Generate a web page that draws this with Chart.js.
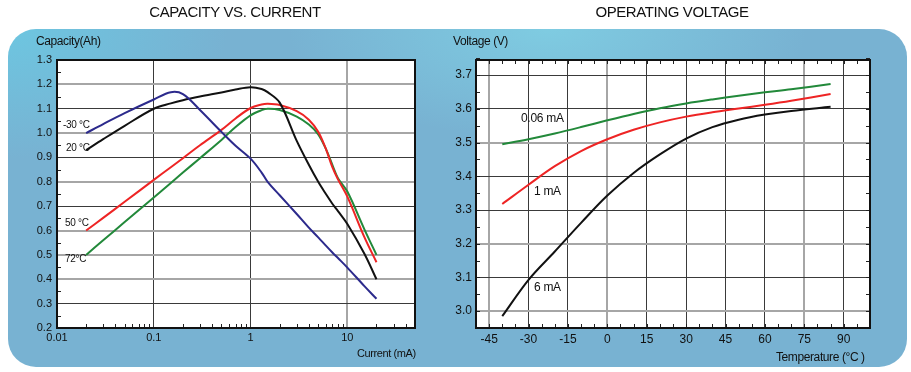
<!DOCTYPE html>
<html>
<head>
<meta charset="utf-8">
<script src="https://cdn.jsdelivr.net/npm/chart.js@4"></script>
<style>
  body { margin: 0; background: #fff; }
  #wrap { position: relative; width: 911px; height: 372px; overflow: hidden; font-family: "Liberation Sans", Arial, sans-serif; color: #111; }
  #panel {
    position: absolute; left: 8px; top: 29px; width: 899px; height: 338px; border-radius: 28px;
    background:
      radial-gradient(ellipse 220px 130px at 0% 0%, rgba(108, 200, 226, 0.9), rgba(108, 200, 226, 0)),
      radial-gradient(ellipse 260px 110px at 60% 0%, rgba(128, 208, 228, 0.85), rgba(128, 208, 228, 0)),
      #78b2d2;
  }
  canvas { position: absolute; top: 0; }
  .t { position: absolute; white-space: nowrap; line-height: 1; }
  .title { font-size: 15px; letter-spacing: -0.4px; top: 4px; transform: translateX(-50%); }
  .ax { font-size: 12px; letter-spacing: -0.4px; }
  .lab { font-size: 10px; letter-spacing: -0.3px; }
  .lab2 { font-size: 12px; letter-spacing: -0.3px; }
</style>
</head>
<body>
<div id="wrap">
  <div id="panel"></div>
  <canvas id="cap" width="455" height="372" style="left:0"></canvas>
  <canvas id="volt" width="456" height="372" style="left:455px"></canvas>

  <div class="t title" style="left:235px">CAPACITY VS. CURRENT</div>
  <div class="t title" style="left:672px">OPERATING VOLTAGE</div>
  <div class="t ax" style="left:36px; top:35px">Capacity(Ah)</div>
  <div class="t ax" style="left:357px; top:348px; font-size:11px">Current (mA)</div>
  <div class="t ax" style="left:453px; top:35px">Voltage (V)</div>
  <div class="t ax" style="left:776px; top:351px">Temperature (°C )</div>

  <div class="t lab" style="left:63px; top:120px">-30 °C</div>
  <div class="t lab" style="left:66px; top:143px">20 °C</div>
  <div class="t lab" style="left:65px; top:218px">50 °C</div>
  <div class="t lab" style="left:65px; top:254px">72°C</div>

  <div class="t lab2" style="left:521px; top:112px">0.06 mA</div>
  <div class="t lab2" style="left:534px; top:185px">1 mA</div>
  <div class="t lab2" style="left:534px; top:281px">6 mA</div>
</div>

<script>
// ---- capacity vs current ----
const corrientes = [0.02, 0.03, 0.05, 0.1, 0.15, 0.2, 0.3, 0.5, 0.7, 1, 1.3, 1.5, 2, 3, 4, 5, 6, 7, 8, 10, 15, 20];
const cap_m30 = [1.00, 1.037, 1.082, 1.138, 1.168, 1.16, 1.095, 1.005, 0.948, 0.895, 0.838, 0.80, 0.745, 0.668, 0.612, 0.572, 0.538, 0.51, 0.487, 0.448, 0.372, 0.32];
const cap_20  = [0.93, 0.975, 1.03, 1.10, 1.122, 1.135, 1.15, 1.167, 1.179, 1.188, 1.181, 1.168, 1.125, 0.968, 0.87, 0.80, 0.75, 0.71, 0.68, 0.627, 0.505, 0.40];
const cap_50  = [0.60, 0.652, 0.718, 0.808, 0.86, 0.897, 0.95, 1.013, 1.06, 1.103, 1.117, 1.12, 1.115, 1.09, 1.055, 1.005, 0.935, 0.86, 0.81, 0.739, 0.573, 0.47];
const cap_72  = [0.50, 0.56, 0.635, 0.736, 0.795, 0.838, 0.897, 0.972, 1.025, 1.073, 1.094, 1.10, 1.095, 1.068, 1.035, 0.995, 0.935, 0.87, 0.815, 0.76, 0.605, 0.50];
const ticksCorriente = [0.01, 0.1, 1, 10];
const ticksCapacidad = [0.2, 0.3, 0.4, 0.5, 0.6, 0.7, 0.8, 0.9, 1.0, 1.1, 1.2, 1.3];

// ---- operating voltage ----
const temperaturas = [-40, -30, -20, -10, 0, 10, 20, 30, 40, 50, 60, 70, 85];
const volt_006 = [3.495, 3.51, 3.527, 3.546, 3.566, 3.585, 3.602, 3.616, 3.628, 3.639, 3.649, 3.658, 3.674];
const volt_1   = [3.318, 3.375, 3.43, 3.475, 3.51, 3.538, 3.56, 3.577, 3.59, 3.601, 3.612, 3.624, 3.644];
const volt_6   = [2.985, 3.093, 3.177, 3.262, 3.343, 3.41, 3.465, 3.512, 3.546, 3.568, 3.583, 3.594, 3.606];
const ticksTemp = [-45, -30, -15, 0, 15, 30, 45, 60, 75, 90];
const ticksVolt = [3.0, 3.1, 3.2, 3.3, 3.4, 3.5, 3.6, 3.7];

const FUENTE = "'Liberation Sans', Arial, sans-serif";
const GRIS = "#a6a6a6";
const OSCURO = "#3a3a3a";

function serie(xs, ys, color) {
  return {
    data: xs.map((x, i) => ({ x: x, y: ys[i] })),
    borderColor: color,
    borderWidth: 2,
    pointRadius: 0,
    fill: false,
    tension: 0.35
  };
}

// fondo blanco, marco y marcas pequeñas hacia dentro
const marco = {
  id: "marco",
  beforeDraw(chart) {
    const a = chart.chartArea, ctx = chart.ctx;
    ctx.save();
    ctx.fillStyle = "#fff";
    ctx.fillRect(a.left, a.top, a.right - a.left, a.bottom - a.top);
    ctx.restore();
  },
  afterDraw(chart, args, opts) {
    const a = chart.chartArea, ctx = chart.ctx;
    const sx = chart.scales.x, sy = chart.scales.y;
    ctx.save();
    ctx.strokeStyle = "#222";
    ctx.lineWidth = 1;
    ctx.beginPath();
    (opts.menoresX || []).forEach(v => {
      const px = Math.round(sx.getPixelForValue(v)) + 0.5;
      ctx.moveTo(px, a.bottom); ctx.lineTo(px, a.bottom - 4);
      if (opts.arriba) { ctx.moveTo(px, a.top); ctx.lineTo(px, a.top + 4); }
    });
    (opts.menoresY || []).forEach(v => {
      const py = Math.round(sy.getPixelForValue(v)) + 0.5;
      ctx.moveTo(a.left, py); ctx.lineTo(a.left + 4, py);
      if (opts.derecha) { ctx.moveTo(a.right, py); ctx.lineTo(a.right - 4, py); }
    });
    ctx.stroke();
    ctx.lineWidth = 2;
    ctx.strokeStyle = "#111";
    ctx.strokeRect(a.left, a.top, a.right - a.left, a.bottom - a.top);
    ctx.restore();
  }
};

// marcas menores
const menoresCorriente = [];
[0.01, 0.1, 1, 10].forEach(d => { for (let k = 2; k <= 9; k++) if (d * k <= 50) menoresCorriente.push(d * k); });
const menoresCapacidad = [];
for (let v = 0.25; v < 1.3; v += 0.1) menoresCapacidad.push(v);
const menoresTemp = [];
for (let v = -50; v <= 100; v += 5) menoresTemp.push(v);
const menoresVolt = [];
for (let v = 2.95; v < 3.75; v += 0.05) menoresVolt.push(v);

const oscurosCap = [0.3, 0.7, 0.9, 1.1];
const oscurosVolt = [3.1, 3.3, 3.4, 3.6, 3.7];
const grisesTemp = [-45, 0, 75];

Chart.defaults.font.family = FUENTE;
Chart.defaults.color = "#111";
Chart.defaults.animation = false;

new Chart(document.getElementById("cap"), {
  type: "line",
  data: {
    datasets: [
      serie(corrientes, cap_m30, "#2c2a8c"),
      serie(corrientes, cap_20, "#111111"),
      serie(corrientes, cap_50, "#ee2424"),
      serie(corrientes, cap_72, "#22893a")
    ]
  },
  options: {
    responsive: false,
    layout: { padding: { top: 60, right: 40, left: 0, bottom: 0 } },
    plugins: {
      legend: { display: false },
      tooltip: { enabled: false },
      marco: { menoresX: menoresCorriente, menoresY: menoresCapacidad }
    },
    scales: {
      x: {
        type: "logarithmic",
        min: 0.01,
        max: 50,
        afterBuildTicks: s => { s.ticks = ticksCorriente.map(v => ({ value: v })); },
        afterFit: s => { s.height = 44; },
        ticks: { autoSkip: false, maxRotation: 0, padding: 3, font: { size: 11 }, callback: v => String(v) },
        grid: {
          drawTicks: false,
          color: c => (c.tick && c.tick.value === 10 ? GRIS : OSCURO),
          lineWidth: c => (c.tick && c.tick.value === 10 ? 2 : 1)
        },
        border: { display: false }
      },
      y: {
        min: 0.2,
        max: 1.3,
        afterBuildTicks: s => { s.ticks = ticksCapacidad.map(v => ({ value: v })); },
        afterFit: s => { s.width = 57; },
        ticks: { padding: 5, font: { size: 11 }, callback: v => v.toFixed(1) },
        grid: {
          drawTicks: false,
          color: c => (c.tick && oscurosCap.some(o => Math.abs(o - c.tick.value) < 1e-6) ? OSCURO : GRIS),
          lineWidth: c => (c.tick && oscurosCap.some(o => Math.abs(o - c.tick.value) < 1e-6) ? 1 : 2)
        },
        border: { display: false }
      }
    }
  },
  plugins: [marco]
});

new Chart(document.getElementById("volt"), {
  type: "line",
  data: {
    datasets: [
      serie(temperaturas, volt_006, "#22893a"),
      serie(temperaturas, volt_1, "#ee2424"),
      serie(temperaturas, volt_6, "#111111")
    ]
  },
  options: {
    responsive: false,
    layout: { padding: { top: 60, right: 41, left: 0, bottom: 0 } },
    plugins: {
      legend: { display: false },
      tooltip: { enabled: false },
      marco: { menoresX: menoresTemp, menoresY: menoresVolt, arriba: true, derecha: true }
    },
    scales: {
      x: {
        type: "linear",
        min: -50,
        max: 100,
        afterBuildTicks: s => { s.ticks = ticksTemp.map(v => ({ value: v })); },
        afterFit: s => { s.height = 44; },
        ticks: { autoSkip: false, maxRotation: 0, padding: 4, font: { size: 12 }, callback: v => String(v) },
        grid: {
          drawTicks: false,
          color: c => (c.tick && grisesTemp.includes(c.tick.value) ? GRIS : OSCURO),
          lineWidth: c => (c.tick && grisesTemp.includes(c.tick.value) ? 2 : 1)
        },
        border: { display: false }
      },
      y: {
        min: 2.95,
        max: 3.745,
        afterBuildTicks: s => { s.ticks = ticksVolt.map(v => ({ value: v })); },
        afterFit: s => { s.width = 21; },
        ticks: { padding: 4, font: { size: 12 }, callback: v => v.toFixed(1) },
        grid: {
          drawTicks: false,
          color: c => (c.tick && oscurosVolt.some(o => Math.abs(o - c.tick.value) < 1e-6) ? OSCURO : GRIS),
          lineWidth: c => (c.tick && oscurosVolt.some(o => Math.abs(o - c.tick.value) < 1e-6) ? 1 : 2)
        },
        border: { display: false }
      }
    }
  },
  plugins: [marco]
});
</script>
</body>
</html>
